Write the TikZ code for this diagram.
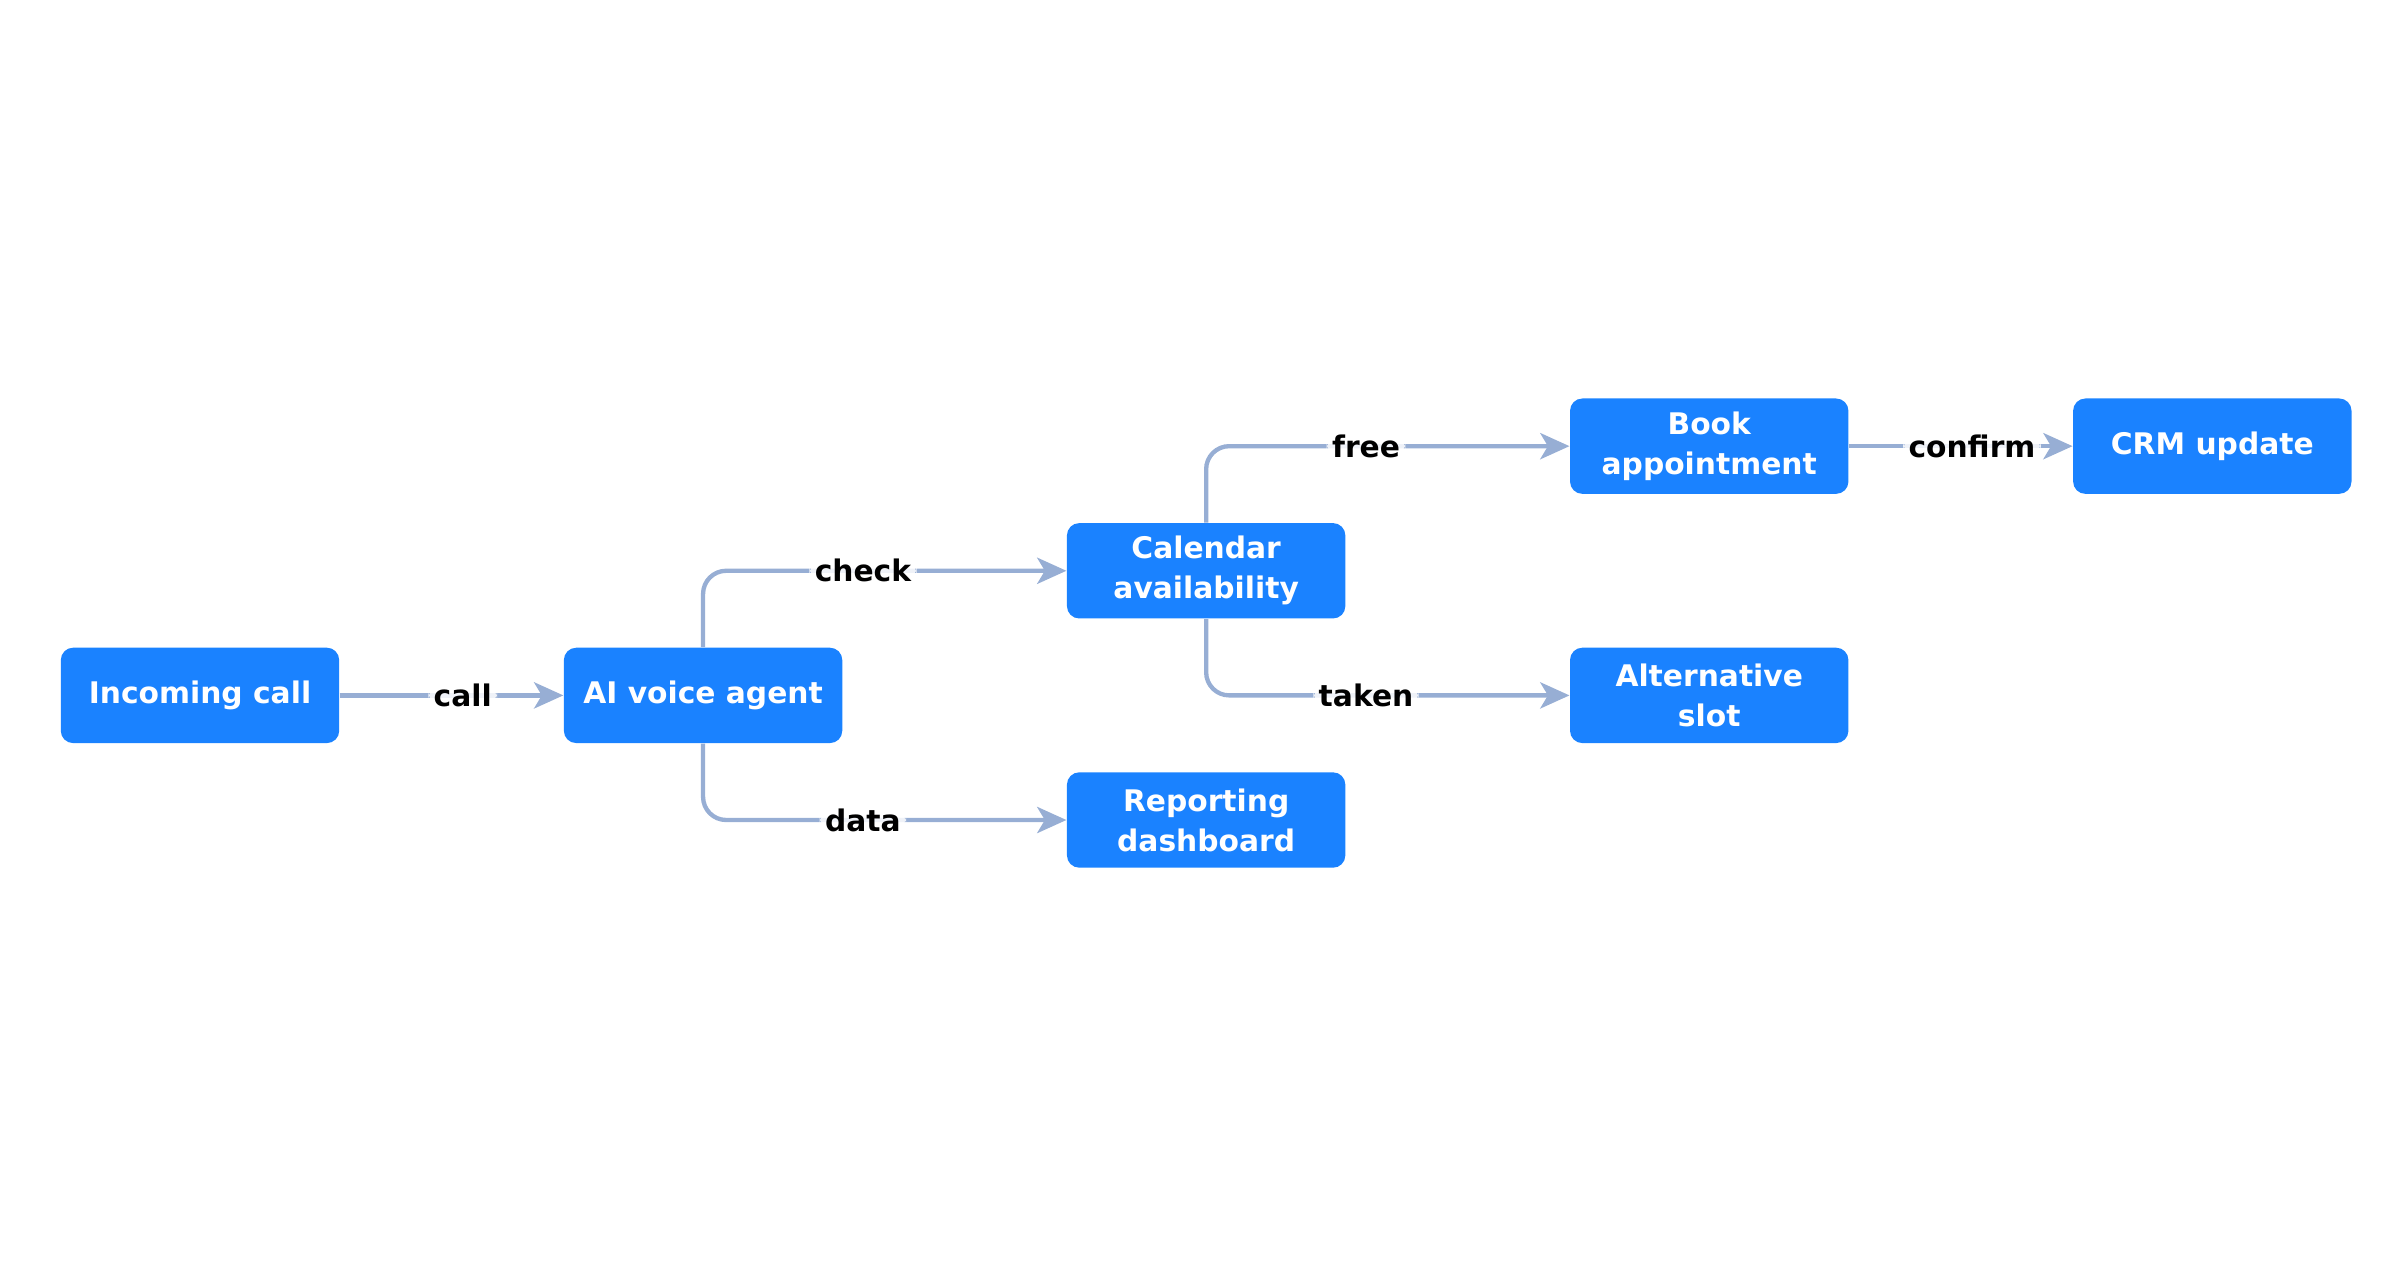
\documentclass[tikz,border=0pt]{standalone}
\usepackage{fontspec}
\setmainfont{DejaVu Sans}
\usetikzlibrary{arrows.meta}
\definecolor{nodeblue}{HTML}{1A82FF}
\definecolor{edgecol}{HTML}{97AED4}
\begin{document}
\begin{tikzpicture}[x=0.02cm,y=-0.02cm,
  box/.style={fill=nodeblue,rounded corners=0.16cm,minimum width=3.62cm,minimum height=1.24cm,
    text=white,font=\fontsize{11}{14.8}\selectfont\bfseries,align=center,inner sep=0pt},
  conn/.style={draw=edgecol,line width=1.6pt,rounded corners=0.3cm,-{Stealth[length=0.38cm,width=0.34cm,inset=0.1cm]}},
  lab/.style={fill=white,fill opacity=0.85,text opacity=1,text=black,font=\fontsize{11}{13}\selectfont\bfseries,inner sep=2pt}]
\useasboundingbox (0,0) rectangle (1560,819);
\node[box] (inc) at (130,452) {Incoming call};
\node[box] (ai) at (457,452) {AI voice agent};
\node[box] (cal) at (784,371) {Calendar\\availability};
\node[box] (rep) at (784,533) {Reporting\\dashboard};
\node[box] (book) at (1111,290) {Book\\appointment};
\node[box] (alt) at (1111,452) {Alternative\\slot};
\node[box] (crm) at (1438,290) {CRM update};
\draw[conn] (inc) -- node[lab,pos=0.55] {call} (ai);
\draw[conn] (ai.north) |- node[lab,pos=0.72] {check} (cal.west);
\draw[conn] (ai.south) |- node[lab,pos=0.72] {data} (rep.west);
\draw[conn] (cal.north) |- node[lab,pos=0.72] {free} (book.west);
\draw[conn] (cal.south) |- node[lab,pos=0.72] {taken} (alt.west);
\draw[conn] (book) -- node[lab,pos=0.55] {confirm} (crm);
\end{tikzpicture}
\end{document}
